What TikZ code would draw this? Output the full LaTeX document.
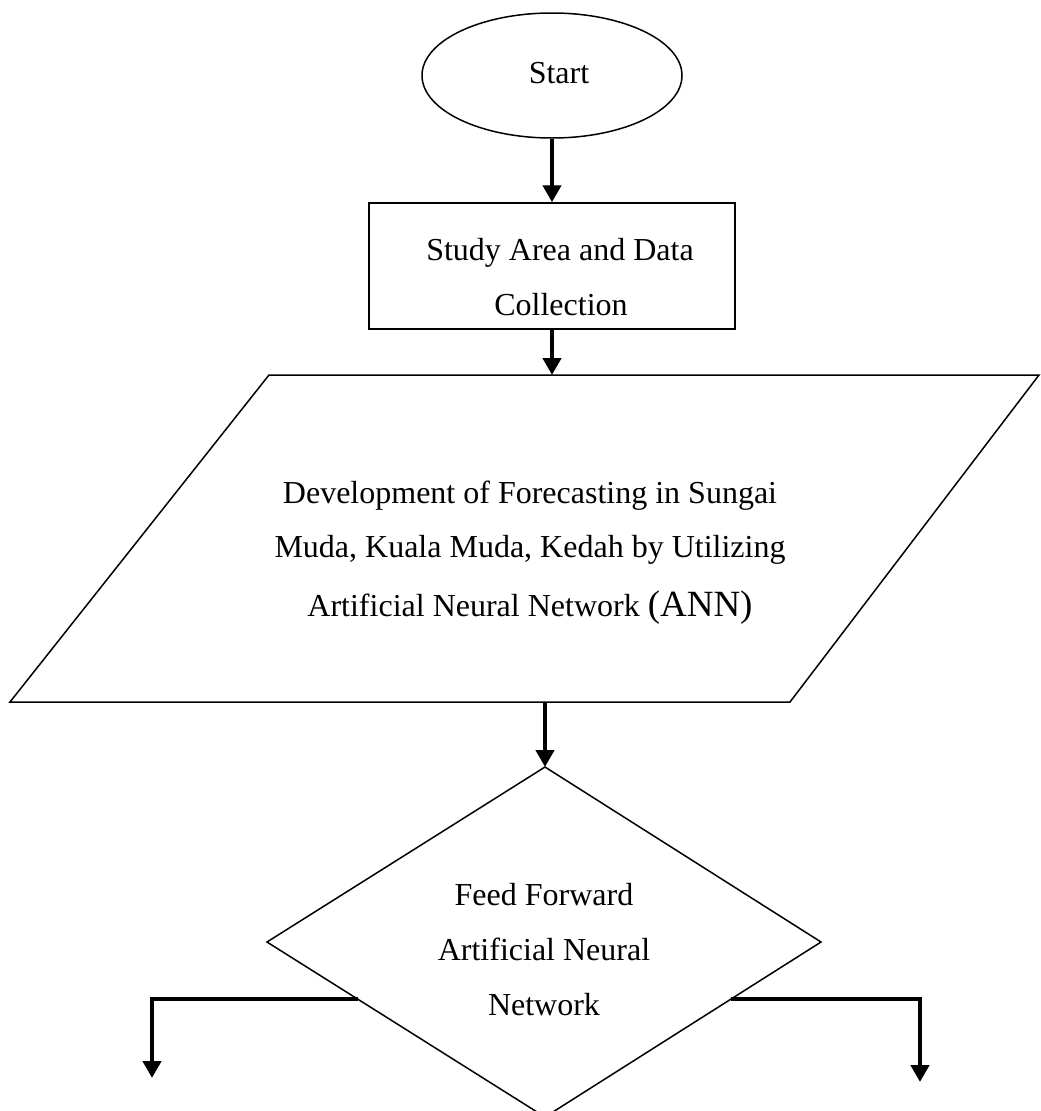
\documentclass[tikz,border=0pt]{standalone}
\usepackage{fontspec}
\setmainfont{Liberation Serif}
\usetikzlibrary{shapes.geometric,arrows.meta,calc}
\begin{document}
\begin{tikzpicture}[x=1pt,y=-1pt,
  outline/.style={draw=black,line width=1.5pt},
  flow/.style={draw=black,line width=4.6pt,-{Triangle[length=17pt,width=18pt]}},
  txt/.style={inner sep=0pt,anchor=base,font=\fontsize{32}{38}\selectfont},
]
\useasboundingbox (0,0) rectangle (1041,1111);

% start terminator
\node[ellipse,outline,minimum width=260pt,minimum height=125pt,inner sep=0pt] (start) at (552,75.5) {};
\node[txt] (startlbl) at (559,83) {Start};

% process box
\node[rectangle,outline,minimum width=366pt,minimum height=126pt,inner sep=0pt] (study) at (552,266) {};
\node[txt] (study1) at (560,260) {Study Area and Data};
\node[txt] (study2) at (561,315) {Collection};

% input/output parallelogram
\coordinate (pTL) at (269,375);
\coordinate (pTR) at (1039,375);
\coordinate (pBR) at (790,702);
\coordinate (pBL) at (10,702);
\coordinate (pIn) at (552,375);
\coordinate (pOut) at (545,702);
\draw[outline] (pTL) -- (pTR) -- (pBR) -- (pBL) -- cycle;
\node[txt] (dev1) at (530,503) {Development of Forecasting in Sungai};
\node[txt] (dev2) at (530,557) {Muda, Kuala Muda, Kedah by Utilizing};
\node[txt] (dev3) at (530,616) {Artificial Neural Network {\fontsize{37}{40}\selectfont(ANN)}};

% decision diamond
\coordinate (dT) at (545,767);
\coordinate (dR) at (821,942);
\coordinate (dB) at (545,1117);
\coordinate (dL) at (267,942);
\draw[outline] (dT) -- (dR) -- (dB) -- (dL) -- cycle;
\node[txt] (ff1) at (544,905) {Feed Forward};
\node[txt] (ff2) at (544,960) {Artificial Neural};
\node[txt] (ff3) at (544,1015) {Network};

% branch ends
\coordinate (lOut) at ($(dL)!0.326!(dB)$);
\coordinate (rOut) at ($(dR)!0.326!(dB)$);
\coordinate (lEnd) at (152,1078);
\coordinate (rEnd) at (920,1082);

% connectors
\draw[flow] (start.south) -- (study.north);
\draw[flow] (study.south) -- (pIn);
\draw[flow] (pOut) -- (dT);
\draw[flow] (lOut) -| (lEnd);
\draw[flow] (rOut) -| (rEnd);
\end{tikzpicture}
\end{document}
